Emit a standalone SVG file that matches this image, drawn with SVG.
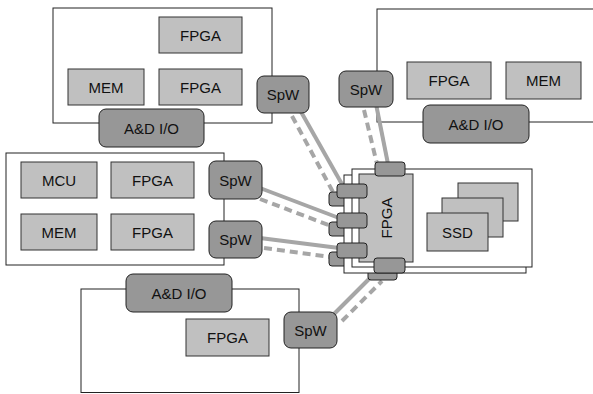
<svg xmlns="http://www.w3.org/2000/svg" width="593" height="394" viewBox="0 0 593 394">
<style>
.frame{fill:none;stroke:#222;stroke-width:1}
.comp{fill:#c0c0c0;stroke:#333;stroke-width:1}
.dark{fill:#979797;stroke:#222;stroke-width:1}
.card{fill:#fff;stroke:#222;stroke-width:1}
.t{font-family:"Liberation Sans",Arial,sans-serif;font-size:15px;fill:#111;text-anchor:middle;dominant-baseline:central}
.solid{stroke:#a6a6a6;stroke-width:4;fill:none}
.dash{stroke:#a6a6a6;stroke-width:4;fill:none;stroke-dasharray:8 5}
</style>
<rect width="593" height="394" fill="#fff"/>

<g id="module-top-left">
<rect class="frame" x="53" y="8" width="219" height="115"/>
<rect class="comp" x="159" y="17" width="83" height="36"/><text class="t" x="200.5" y="35">FPGA</text>
<rect class="comp" x="68" y="69" width="76" height="36"/><text class="t" x="106" y="87">MEM</text>
<rect class="comp" x="159" y="69" width="83" height="36"/><text class="t" x="200.5" y="87">FPGA</text>
<rect class="dark" x="99" y="109" width="105" height="38" rx="7"/><text class="t" x="151.5" y="128">A&amp;D I/O</text>
</g>

<g id="module-top-right">
<rect class="frame" x="377" y="9" width="230" height="113"/>
<rect class="comp" x="407" y="62" width="84" height="37"/><text class="t" x="449" y="80.5">FPGA</text>
<rect class="comp" x="506" y="62" width="75" height="37"/><text class="t" x="543.5" y="80.5">MEM</text>
<rect class="dark" x="423" y="105" width="106" height="38" rx="7"/><text class="t" x="476" y="124">A&amp;D I/O</text>
</g>

<g id="module-mid-left">
<rect class="frame" x="6" y="153" width="218" height="112"/>
<rect class="comp" x="21" y="162" width="76" height="36"/><text class="t" x="59" y="180">MCU</text>
<rect class="comp" x="111" y="162" width="83" height="36"/><text class="t" x="152.5" y="180">FPGA</text>
<rect class="comp" x="21" y="214" width="76" height="36"/><text class="t" x="59" y="232">MEM</text>
<rect class="comp" x="111" y="214" width="83" height="36"/><text class="t" x="152.5" y="232">FPGA</text>
</g>

<g id="module-bottom">
<rect class="frame" x="81" y="289" width="218" height="103.5"/>
<rect class="dark" x="126" y="274" width="106" height="38" rx="7"/><text class="t" x="179" y="293">A&amp;D I/O</text>
<rect class="comp" x="186" y="319" width="83" height="37"/><text class="t" x="227.5" y="337.5">FPGA</text>
</g>

<g id="connectors">
<line class="solid" x1="300" y1="110" x2="343" y2="186"/>
<line class="dash" x1="292" y1="116" x2="333" y2="192"/>
<line class="solid" x1="376" y1="104" x2="388" y2="164"/>
<line class="dash" x1="364" y1="110" x2="377" y2="164"/>
<line class="solid" x1="260" y1="188" x2="339" y2="218"/>
<line class="dash" x1="260" y1="199" x2="331" y2="226"/>
<line class="solid" x1="260" y1="238" x2="339" y2="248"/>
<line class="dash" x1="264" y1="248" x2="331" y2="257"/>
<line class="solid" x1="333" y1="315" x2="371" y2="277"/>
<line class="dash" x1="342" y1="321" x2="382" y2="281"/>
</g>

<g id="spw-top-left"><rect class="dark" x="257" y="76" width="52" height="37" rx="7"/><text class="t" x="283" y="94.5">SpW</text></g>
<g id="spw-top-right"><rect class="dark" x="339" y="71" width="54" height="36" rx="7"/><text class="t" x="366" y="89">SpW</text></g>
<g id="spw-mid-1"><rect class="dark" x="209" y="161" width="53" height="38" rx="7"/><text class="t" x="235.5" y="180">SpW</text></g>
<g id="spw-mid-2"><rect class="dark" x="209" y="221" width="53" height="37" rx="7"/><text class="t" x="235.5" y="239.5">SpW</text></g>
<g id="spw-bottom"><rect class="dark" x="284" y="312" width="53" height="36" rx="7"/><text class="t" x="310.5" y="330">SpW</text></g>

<g id="central-unit">
<rect class="dark" x="329" y="192" width="30" height="14" rx="3"/>
<rect class="dark" x="329" y="222" width="30" height="14" rx="3"/>
<rect class="dark" x="329" y="252" width="30" height="14" rx="3"/>
<rect class="dark" x="368" y="266" width="29" height="14" rx="3"/>
<rect class="card" x="344" y="175" width="182" height="98"/>
<rect class="card" x="352" y="169" width="180" height="98"/>
<rect class="comp" x="359" y="174" width="54" height="88"/>
<text class="t" x="386" y="218" transform="rotate(-90 386 218)">FPGA</text>
<rect class="dark" x="337" y="184" width="30" height="14" rx="3"/>
<rect class="dark" x="337" y="213" width="30" height="15" rx="3"/>
<rect class="dark" x="337" y="243" width="30" height="15" rx="3"/>
<rect class="dark" x="375" y="162" width="30" height="14" rx="3"/>
<rect class="dark" x="374" y="258" width="31" height="15" rx="3"/>
</g>

<g id="ssd">
<rect class="comp" x="458" y="183" width="60" height="38"/>
<rect class="comp" x="442" y="198" width="61" height="39"/>
<rect class="comp" x="427" y="213" width="61" height="38"/>
<text class="t" x="457.5" y="232">SSD</text>
</g>
</svg>
